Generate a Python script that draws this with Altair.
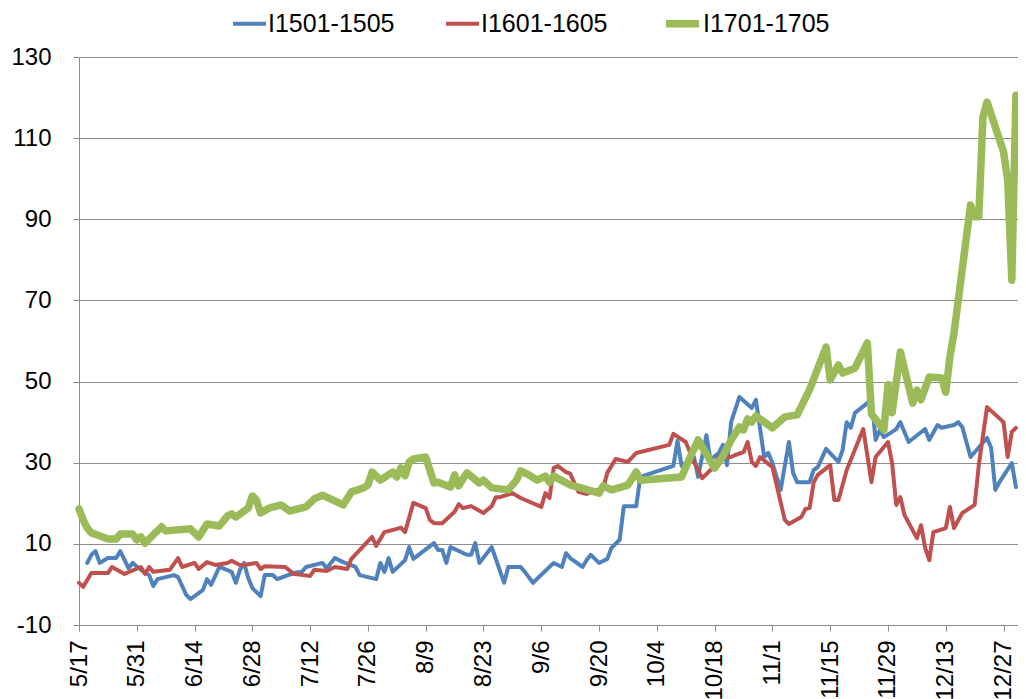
import altair as alt
import pandas as pd

YEAR = 2015

series_names = ["I1501-1505", "I1601-1605", "I1701-1705"]
series_colors = ["#4F81BD", "#C0504D", "#9BBB59"]
series_widths = [4, 4, 7.5]

tick_labels = ["5/17", "5/31", "6/14", "6/28", "7/12", "7/26", "8/9", "8/23", "9/6",
               "9/20", "10/4", "10/18", "11/1", "11/15", "11/29", "12/13", "12/27"]
y_ticks = [-10, 10, 30, 50, 70, 90, 110, 130]

i1501_dates = ["5/19", "5/20", "5/21", "5/22", "5/24", "5/26", "5/27", "5/29", "5/30", "6/1",
               "6/3", "6/4", "6/5", "6/9", "6/10", "6/12", "6/13", "6/16", "6/17", "6/18",
               "6/20", "6/23", "6/24", "6/25", "6/26", "6/27", "6/28", "6/30", "7/1", "7/3",
               "7/4", "7/8", "7/10", "7/11", "7/15", "7/16", "7/18", "7/20", "7/23", "7/24",
               "7/28", "7/29", "7/30", "7/31", "8/1", "8/4", "8/5", "8/6", "8/11", "8/12",
               "8/13", "8/14", "8/15", "8/19", "8/20", "8/21", "8/22", "8/25", "8/28", "8/29",
               "9/1", "9/2", "9/4", "9/9", "9/11", "9/12", "9/13", "9/16", "9/17", "9/18",
               "9/20", "9/22", "9/23", "9/25", "9/26", "9/29", "9/30", "10/8", "10/9", "10/10",
               "10/13", "10/14", "10/16", "10/17", "10/19", "10/20", "10/21", "10/22", "10/24", "10/27",
               "10/28", "10/30", "10/31", "11/1", "11/3", "11/5", "11/6", "11/7", "11/10", "11/11",
               "11/12", "11/14", "11/17", "11/18", "11/19", "11/20", "11/21", "11/24", "11/25", "11/26",
               "11/27", "11/28", "11/30", "12/1", "12/2", "12/4", "12/8", "12/9", "12/11", "12/12",
               "12/15", "12/16", "12/17", "12/19", "12/23", "12/24", "12/25", "12/26", "12/29", "12/30"]
i1501_values = [5.3, 7.3, 8.2, 5.3, 6.5, 6.5, 8.2, 4.0, 5.3, 3.6,
                2.3, -0.4, 1.3, 2.3, 1.8, -2.6, -3.6, -1.4, 1.3, -0.1,
                4.3, 3.1, 0.4, 3.6, 5.3, 1.6, -0.9, -2.9, 2.3, 2.3,
                1.3, 2.8, 3.1, 4.3, 5.3, 4.0, 6.5, 5.5, 4.3, 2.3,
                1.3, 5.3, 3.1, 6.5, 3.1, 6.0, 9.2, 6.3, 10.2, 8.5,
                8.5, 5.3, 9.2, 7.3, 7.3, 10.2, 5.3, 9.2, 0.4, 4.3,
                4.3, 3.1, 0.4, 5.3, 4.3, 7.7, 6.5, 4.3, 6.0, 7.3,
                5.3, 6.3, 9.0, 11.0, 19.3, 19.3, 26.5, 29.2, 35.4, 29.2,
                31.4, 26.5, 36.8, 30.7, 32.4, 34.4, 29.4, 40.0, 46.2, 43.5,
                45.5, 31.4, 32.4, 29.9, 23.3, 35.1, 27.5, 25.2, 25.2, 28.2,
                28.9, 33.4, 30.2, 33.1, 40.0, 38.6, 42.3, 44.7, 46.2, 35.6,
                38.0, 36.3, 37.6, 38.3, 40.0, 35.1, 38.3, 35.6, 39.3, 38.6,
                39.3, 40.0, 38.8, 31.4, 36.1, 33.6, 23.3, 25.2, 29.9, 24.0]

i1601_dates = ["5/17", "5/18", "5/20", "5/24", "5/25", "5/28", "6/1", "6/2", "6/3", "6/4",
               "6/8", "6/10", "6/11", "6/14", "6/15", "6/17", "6/19", "6/22", "6/23", "6/25",
               "6/26", "6/29", "6/30", "7/1", "7/6", "7/8", "7/12", "7/13", "7/16", "7/18",
               "7/21", "7/22", "7/27", "7/28", "7/30", "8/2", "8/3", "8/4", "8/6", "8/9",
               "8/10", "8/11", "8/13", "8/16", "8/17", "8/18", "8/20", "8/23", "8/25", "8/26",
               "8/27", "8/30", "9/1", "9/6", "9/7", "9/8", "9/9", "9/10", "9/12", "9/13",
               "9/15", "9/17", "9/21", "9/22", "9/24", "9/27", "9/29", "10/7", "10/8", "10/11",
               "10/13", "10/15", "10/18", "10/19", "10/22", "10/23", "10/25", "10/26", "10/27", "10/28",
               "10/29", "11/1", "11/4", "11/5", "11/8", "11/9", "11/10", "11/11", "11/12", "11/15",
               "11/16", "11/17", "11/19", "11/23", "11/25", "11/26", "11/29", "11/30", "12/1", "12/2",
               "12/3", "12/6", "12/7", "12/8", "12/9", "12/10", "12/13", "12/14", "12/15", "12/17",
               "12/20", "12/21", "12/23", "12/27", "12/28", "12/29", "12/30"]
i1601_values = [0.4, -0.6, 2.8, 2.8, 4.3, 2.6, 4.3, 2.6, 4.3, 3.1,
                3.6, 6.5, 4.3, 5.3, 3.8, 5.5, 4.8, 5.3, 5.8, 4.8,
                4.8, 5.3, 3.8, 4.5, 4.3, 2.6, 2.1, 3.6, 3.3, 4.3,
                3.8, 6.3, 11.7, 9.5, 12.9, 13.7, 14.0, 12.9, 20.1, 18.8,
                15.9, 15.1, 15.1, 17.9, 19.8, 18.8, 19.3, 17.6, 19.3, 21.5,
                21.5, 22.5, 21.3, 19.1, 22.5, 21.3, 28.7, 29.2, 27.7, 27.3,
                22.8, 22.3, 23.8, 27.5, 30.9, 30.2, 32.4, 34.4, 37.1, 35.1,
                30.2, 26.2, 29.2, 31.4, 31.4, 31.9, 32.6, 35.1, 30.2, 29.2,
                31.4, 28.9, 15.9, 14.9, 16.6, 18.6, 18.8, 25.2, 27.0, 29.4,
                20.8, 20.8, 28.2, 38.3, 25.2, 31.4, 35.1, 29.9, 19.6, 21.5,
                17.1, 11.4, 14.6, 9.0, 6.0, 12.9, 13.9, 19.1, 13.9, 17.6,
                19.6, 29.4, 43.7, 40.0, 31.4, 37.6, 38.6]

i1701_dates = ["5/17", "5/18", "5/19", "5/20", "5/22", "5/24", "5/26", "5/27", "5/30", "5/31",
               "6/1", "6/2", "6/4", "6/6", "6/7", "6/13", "6/15", "6/17", "6/20", "6/22",
               "6/23", "6/24", "6/26", "6/27", "6/28", "6/29", "6/30", "7/2", "7/5", "7/7",
               "7/11", "7/13", "7/15", "7/19", "7/20", "7/22", "7/25", "7/26", "7/27", "7/29",
               "8/1", "8/2", "8/3", "8/4", "8/5", "8/6", "8/9", "8/11", "8/12", "8/15",
               "8/16", "8/17", "8/19", "8/22", "8/23", "8/25", "8/29", "8/31", "9/1", "9/3",
               "9/5", "9/7", "9/8", "9/9", "9/13", "9/15", "9/20", "9/21", "9/23", "9/27",
               "9/29", "9/30", "10/10", "10/12", "10/14", "10/18", "10/20", "10/22", "10/24", "10/25",
               "10/26", "10/27", "10/28", "11/1", "11/4", "11/7", "11/10", "11/14", "11/15", "11/17",
               "11/18", "11/21", "11/24", "11/25", "11/28", "11/29", "11/30", "12/2", "12/5", "12/6",
               "12/7", "12/9", "12/12", "12/13", "12/14", "12/15", "12/19", "12/20", "12/21", "12/22",
               "12/23", "12/27", "12/28", "12/29", "12/30"]
i1701_values = [18.6, 15.9, 13.9, 12.7, 12.0, 11.2, 11.2, 12.4, 12.4, 11.0,
                11.7, 10.2, 12.2, 14.2, 13.2, 13.7, 11.7, 14.9, 14.4, 16.9,
                17.4, 16.6, 18.1, 18.8, 21.8, 20.8, 17.6, 18.8, 19.6, 18.1,
                19.1, 21.1, 22.0, 20.1, 19.6, 22.8, 23.8, 24.5, 27.7, 25.7,
                27.7, 26.5, 28.7, 26.8, 30.2, 30.9, 31.4, 25.0, 25.2, 24.0,
                27.0, 24.3, 27.5, 25.0, 25.7, 23.8, 23.3, 25.7, 28.0, 27.0,
                25.7, 26.7, 25.2, 26.7, 24.5, 24.0, 22.5, 24.3, 23.3, 24.5,
                27.7, 25.7, 26.5, 31.2, 35.6, 28.7, 31.6, 35.6, 38.8, 38.1,
                40.8, 40.0, 41.5, 38.6, 41.3, 41.8, 48.0, 58.5, 50.4, 54.1,
                52.1, 53.3, 59.5, 42.0, 38.1, 49.2, 42.3, 57.3, 44.7, 47.9,
                45.5, 51.1, 50.9, 47.4, 56.1, 62.0, 93.5, 90.6, 90.6, 115.2,
                118.9, 106.6, 99.7, 75.0, 120.6]


def to_date(md):
    m, d = md.split("/")
    return pd.Timestamp(year=YEAR, month=int(m), day=int(d))


def dt(md, hours=0):
    m, d = md.split("/")
    return alt.DateTime(year=YEAR, month=int(m), date=int(d), hours=hours)


frames = []
for name, dates, vals in [(series_names[0], i1501_dates, i1501_values),
                          (series_names[1], i1601_dates, i1601_values),
                          (series_names[2], i1701_dates, i1701_values)]:
    frames.append(pd.DataFrame({"series": name,
                                "date": [to_date(s) for s in dates],
                                "value": vals}))
df = pd.concat(frames, ignore_index=True)

grid_gray = "#8c8c8c"

chart = alt.Chart(df).mark_line(strokeJoin="round", strokeCap="round").encode(
    x=alt.X("date:T",
            scale=alt.Scale(domain=[dt("5/17"), dt("12/30", hours=12)]),
            axis=alt.Axis(values=[dt(s) for s in tick_labels], format="%-m/%-d",
                          labelAngle=-90, title=None, grid=False, tickSize=6,
                          labelPadding=9, domainColor=grid_gray, tickColor=grid_gray,
                          labelFontSize=24)),
    y=alt.Y("value:Q",
            scale=alt.Scale(domain=[-10, 130], nice=False, zero=False),
            axis=alt.Axis(values=y_ticks, title=None, grid=True, gridColor=grid_gray,
                          gridWidth=1, tickSize=6, labelPadding=22,
                          labelExpr="'' + datum.value",
                          domainColor=grid_gray, tickColor=grid_gray, labelFontSize=24)),
    color=alt.Color("series:O",
                    scale=alt.Scale(type="ordinal", domain=series_names, range=series_colors),
                    title=None),
    strokeWidth=alt.StrokeWidth("series:O",
                                scale=alt.Scale(type="ordinal", domain=series_names,
                                                range=series_widths),
                                title=None),
).properties(
    width=939, height=568,
    autosize=alt.AutoSizeParams(type="none"),
    padding={"left": 71, "top": 49, "right": 0, "bottom": 90},
).configure_view(stroke=None).configure_axis(
    labelFont="Liberation Sans", labelColor="black"
).configure_legend(
    orient="none", legendX=152, legendY=-54, direction="horizontal",
    symbolType="stroke", symbolSize=1089,
    labelFont="Liberation Sans", labelFontSize=25, labelColor="black",
    columnPadding=43, labelOffset=0, padding=0
)

chart.save("out.html", embed_options={"renderer": "svg", "actions": False})
